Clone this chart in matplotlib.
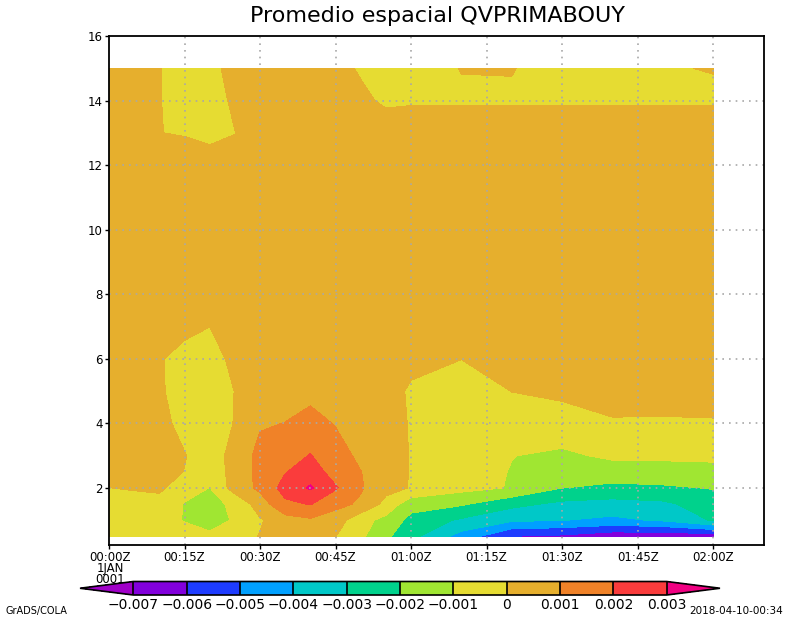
import numpy as np
import matplotlib
matplotlib.use('Agg')
import matplotlib.pyplot as plt
from matplotlib.colors import ListedColormap, BoundaryNorm

# time axis in minutes after 00:00Z, height levels
minutes = [0, 5, 10, 15, 20, 25, 30, 35, 40, 45, 50, 55, 60, 70, 80, 90, 100, 110, 120]
heights = [0.5, 1, 1.5, 2, 2.5, 3, 4, 5, 6, 7, 10, 12, 13, 14, 15]

# QV' values (units of 1e-3), one list per time, bottom -> top
qv_cols = [
    [-0.3, -0.3, -0.3, -0.01, 0.4, 0.45, 0.5, 0.5, 0.5, 0.5, 0.5, 0.4, 0.4, 0.4, 0.4],
    [-0.4, -0.4, -0.4, 0.08, 0.35, 0.4, 0.45, 0.45, 0.45, 0.5, 0.5, 0.4, 0.3, 0.3, 0.3],
    [-0.5, -0.6, -0.4, 0.2, 0.3, 0.3, 0.3, 0.15, 0.1, 0.4, 0.5, 0.4, 0.01, 0.05, 0.05],
    [-0.6, -1.05, -1.05, -0.6, -0.02, 0.05, -0.3, -0.5, -0.4, 0.3, 0.5, 0.4, -0.05, -0.5, -0.5],
    [-0.8, -1.4, -1.3, -1.02, -0.5, -0.5, -0.6, -0.6, -0.4, 0.005, 0.5, 0.4, -0.235, -0.5, -0.5],
    [-0.4, -0.9, -0.8, 0.45, 0.3, 0.35, 0.05, 0.02, 0.25, 0.5, 0.5, 0.4, -0.02, 0.2, 0.6],
    [0.05, -0.1, 0.5, 1.2, 1.3, 1.3, 0.9, 0.6, 0.5, 0.5, 0.5, 0.45, 0.5, 0.5, 0.5],
    [0.4, 0.6, 1.8, 2.4, 1.95, 1.6, 1.02, 0.6, 0.5, 0.5, 0.5, 0.45, 0.5, 0.5, 0.5],
    [0.5, 0.85, 2.05, 3.12, 2.5, 2.05, 1.3, 0.75, 0.5, 0.5, 0.5, 0.45, 0.5, 0.5, 0.5],
    [0.02, 0.5, 1.3, 2.1, 1.6, 1.4, 0.95, 0.6, 0.5, 0.5, 0.5, 0.45, 0.5, 0.5, 0.3],
    [-0.8, -0.66, 0.84, 1.1, 1.02, 0.8, 0.6, 0.5, 0.5, 0.5, 0.5, 0.5, 0.5, 0.2, -0.1],
    [-1.8, -1.3, -0.3, 0.3, 0.45, 0.45, 0.45, 0.45, 0.45, 0.5, 0.5, 0.5, 0.5, -0.15, -0.5],
    [-2.7, -2.3, -1.62, -0.05, -0.05, -0.05, -0.08, -0.15, 0.3, 0.5, 0.5, 0.5, 0.5, -0.09, -0.3],
    [-4.4, -3.15, -1.88, -0.7, -0.6, -0.5, -0.4, -0.4, 0.01, 0.5, 0.5, 0.5, 0.5, -0.09, 0.02],
    [-6.02, -3.84, -2.72, -1.06, -1.04, -0.98, -0.35, 0.01, 0.5, 0.5, 0.5, 0.5, 0.5, -0.09, 0.03],
    [-6.2, -3.98, -3.23, -1.99, -1.58, -1.17, -0.43, 0.2, 0.5, 0.5, 0.5, 0.5, 0.5, -0.09, -0.3],
    [-6.68, -4.22, -3.36, -2.26, -1.41, -0.84, -0.12, 0.5, 0.5, 0.5, 0.5, 0.5, 0.5, -0.09, -0.3],
    [-6.75, -3.88, -3.2, -2.15, -1.37, -0.83, -0.14, 0.5, 0.5, 0.5, 0.5, 0.5, 0.5, -0.09, -0.03],
    [-6.6, -2.9, -2.5, -1.95, -1.3, -0.8, -0.1, 0.5, 0.5, 0.5, 0.5, 0.5, 0.5, -0.09, 0.02],
]

levels = [-7, -6, -5, -4, -3, -2, -1, 0, 1, 2, 3]
level_labels = ['\u22120.007', '\u22120.006', '\u22120.005', '\u22120.004', '\u22120.003',
                '\u22120.002', '\u22120.001', '0', '0.001', '0.002', '0.003']
shade_colors = ['#8200dc', '#1e3cff', '#00a0ff', '#00c8c8', '#00d28c',
                '#a0e632', '#e6dc32', '#e6af2d', '#f08228', '#fa3c3c']
under_color = '#a000c8'
over_color = '#f00082'

xtick_minutes = [0, 15, 30, 45, 60, 75, 90, 105, 120]
xtick_labels = ['', '00:15Z', '00:30Z', '00:45Z', '01:00Z',
                '01:15Z', '01:30Z', '01:45Z', '02:00Z']
first_label = '00:00Z\n1JAN\n0001'
ytick_values = [2, 4, 6, 8, 10, 12, 14, 16]

qv = np.array(qv_cols).T * 1e-3
lev = np.array(levels) * 1e-3

cmap = ListedColormap(shade_colors)
cmap.set_under(under_color)
cmap.set_over(over_color)
norm = BoundaryNorm(lev, cmap.N)

fig = plt.figure(figsize=(8, 6.18), dpi=100)
ax = fig.add_axes([109 / 800, 1 - 545 / 618, 655 / 800, 509 / 618])

cf = ax.contourf(minutes, heights, qv, levels=lev, cmap=cmap, norm=norm, extend='both')

ax.set_xlim(0, 130.1)
ax.set_ylim(0.234, 16)
ax.set_xticks(xtick_minutes)
ax.set_xticklabels(xtick_labels, fontsize=8.5)
ax.set_yticks(ytick_values)
ax.set_yticklabels([str(v) for v in ytick_values], fontsize=8.5)
ax.tick_params(direction='out', length=3, width=1, pad=1.5)

# first time label with the date lines, kept as one block
fig.text(110 / 800, 1 - 551 / 618, first_label, ha='center', va='top',
         fontsize=8.5, linespacing=0.82, multialignment='center')

# dotted grid on top of the shading, inside the frame only
for xm in xtick_minutes[1:]:
    ax.axvline(xm, color='#a8a8a8', linestyle=(0, (1, 3)), linewidth=1.2, zorder=2)
for yv in ytick_values[:-1]:
    ax.axhline(yv, color='#a8a8a8', linestyle=(0, (1, 3)), linewidth=1.2, zorder=2)
for sp in ax.spines.values():
    sp.set_linewidth(1.3)
    sp.set_zorder(3)

fig.text(437 / 800, 1 - 16 / 618, 'Promedio espacial QVPRIMABOUY',
         ha='center', va='center', fontsize=16)

# colorbar with triangle ends
cax = fig.add_axes([80 / 800, 1 - 595 / 618, 640 / 800, 13.5 / 618])
cb = fig.colorbar(cf, cax=cax, orientation='horizontal', extendfrac=0.1,
                  drawedges=True, ticks=lev)
cb.set_ticklabels(level_labels)
cb.ax.tick_params(length=0, labelsize=10, pad=2)
cb.outline.set_linewidth(1.2)
cb.dividers.set_linewidth(1.2)
cb.dividers.set_color('black')

fig.text(5 / 800, 1 - 611 / 618, 'GrADS/COLA', ha='left', va='center', fontsize=7)
fig.text(783 / 800, 1 - 611 / 618, '2018-04-10-00:34', ha='right', va='center', fontsize=7.5)

fig.savefig('out.png', dpi=100)
